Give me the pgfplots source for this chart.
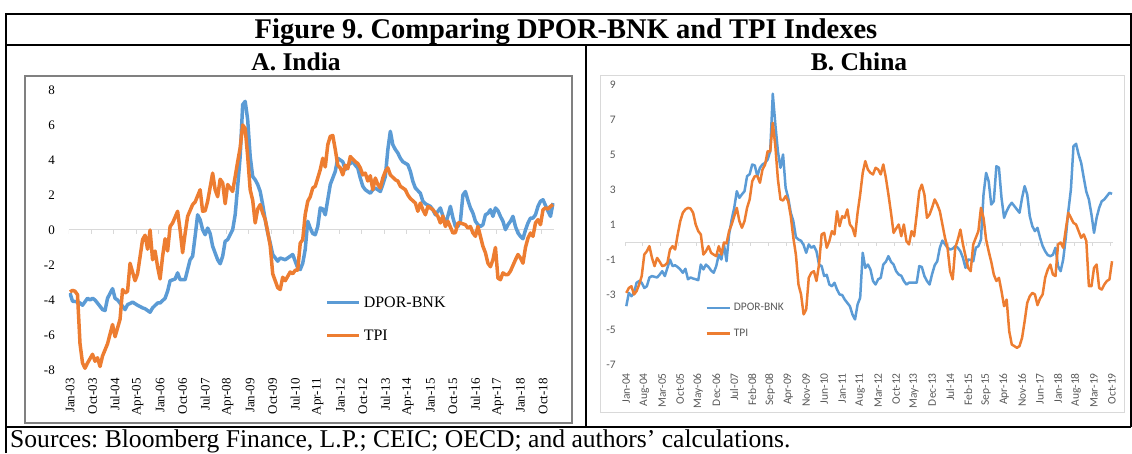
\documentclass[border=0pt]{standalone}
\usepackage{pgfplots}
\pgfplotsset{compat=1.18}
\usepackage{fontspec}
\setmainfont{Liberation Serif}
\newfontfamily\calfont{Carlito}
\definecolor{cblue}{RGB}{91,155,213}
\definecolor{corange}{RGB}{237,125,49}
\definecolor{axgray}{RGB}{217,217,217}
\definecolor{txtgray}{RGB}{89,89,89}
\definecolor{framegray}{RGB}{128,128,128}
\frenchspacing

\pgfplotstableread{
m v
0 -3.6
1 -4.07
3 -4.1
4 -4.17
5 -4.3
7 -3.9
8 -4.0
9 -3.9
10 -4.0
12 -4.36
13 -4.55
14 -4.6
15 -3.9
17 -3.35
18 -3.9
19 -4.0
21 -4.36
22 -4.55
23 -4.26
24 -4.2
25 -4.12
27 -4.3
29 -4.45
30 -4.5
32 -4.7
33 -4.45
35 -4.17
36 -4.17
38 -3.9
39 -3.5
40 -2.9
42 -2.8
43 -2.45
44 -2.84
46 -2.84
47 -2.26
48 -1.7
49 -1.5
50 -0.36
51 0.87
52 0.59
53 0.02
54 -0.27
55 0.11
56 -0.2
57 -0.93
59 -1.7
60 -1.93
61 -1.5
62 -0.65
63 -0.55
65 0.02
66 0.87
67 2.5
68 4.2
69 7.16
70 7.35
71 6.3
72 4.2
73 3.06
74 2.87
75 2.6
76 2.2
77 1.45
78 0.59
79 -0.17
80 -0.74
81 -1.4
83 -1.78
84 -1.6
86 -1.7
87 -1.6
88 -1.5
89 -1.4
91 -2.17
92 -2.26
93 -1.9
94 -1.1
95 0.5
96 0.1
97 -0.2
98 -0.27
99 0.2
100 1.26
101 1.2
102 0.87
103 1.73
104 2.6
105 2.97
106 3.35
107 4.1
108 4.0
109 3.9
110 3.45
111 3.7
113 3.9
114 3.7
115 3.54
116 2.97
117 2.5
118 2.3
120 2.1
121 2.3
122 2.4
123 2.3
124 2.2
125 2.6
126 3.06
127 4.59
128 5.64
129 4.87
130 4.6
131 4.4
132 4.1
133 3.9
135 3.73
136 3.35
137 2.78
138 2.4
140 2.1
141 1.64
142 1.5
144 1.35
145 1.16
146 0.87
148 1.26
149 0.8
150 0.3
151 0.8
152 1.35
153 0.7
154 0.2
155 0.2
156 0.5
157 2.0
158 2.2
159 1.7
160 1.26
161 0.97
162 0.5
163 0.3
164 0.2
165 0.3
166 0.87
167 0.95
168 1.16
169 0.78
170 1.26
171 1.1
172 0.78
173 0.5
174 0.02
175 0.3
176 0.5
177 0.78
178 0.2
179 -0.17
180 -0.36
181 -0.5
182 0.0
183 0.4
184 0.68
185 0.68
186 0.87
187 1.35
188 1.64
189 1.73
190 1.4
191 1.07
192 0.78
193 1.54
}\indiadpor

\pgfplotstableread{
m v
0 -3.54
1 -3.45
2 -3.5
3 -3.7
4 -6.5
5 -7.6
6 -7.9
7 -7.6
9 -7.1
10 -7.5
11 -7.3
12 -7.8
13 -7.2
15 -6.5
17 -5.4
18 -6.1
20 -5.1
21 -3.4
22 -3.6
23 -3.5
24 -1.9
26 -2.9
27 -2.5
29 -0.55
30 -0.3
31 -1.1
32 0.0
33 -1.7
34 -1.2
35 -2.1
36 -2.8
37 -1.5
38 -0.5
39 -1.2
40 0.2
41 0.4
43 1.07
44 0.0
45 -1.3
46 -0.2
47 0.78
49 1.45
50 1.6
52 2.3
53 1.07
54 1.1
55 1.64
57 3.25
58 2.3
59 1.9
60 2.9
61 2.7
62 1.5
63 2.6
64 2.4
65 2.2
67 3.9
68 4.7
69 6.0
70 5.8
71 4.2
72 2.3
73 1.7
74 0.4
75 1.2
76 1.45
77 0.97
78 0.6
79 -0.1
80 -0.9
81 -2.5
82 -2.9
83 -3.3
84 -3.4
85 -2.7
86 -2.9
88 -2.4
89 -2.5
90 -2.3
91 -2.3
92 -0.75
93 -0.55
94 0.9
95 1.64
96 1.9
97 2.4
98 2.5
99 2.97
100 3.45
101 4.1
102 3.6
103 4.87
104 5.35
105 5.4
106 4.6
107 3.7
108 3.55
109 3.15
110 3.7
111 3.5
112 4.2
114 3.9
115 3.8
116 3.55
117 3.15
118 3.25
119 2.8
120 3.1
121 2.3
122 2.97
123 2.6
124 2.4
125 2.97
126 3.35
127 3.55
128 3.15
130 2.87
131 2.8
132 2.5
134 2.3
135 2.0
136 1.8
138 1.54
139 1.07
140 1.54
141 1.16
142 0.87
143 1.35
145 1.16
146 0.97
147 0.78
148 0.4
149 0.8
150 0.2
151 0.5
153 -0.17
154 -0.15
155 0.4
156 0.4
158 0.3
159 0.11
160 0.2
161 -0.17
162 -0.36
163 0.2
164 -0.36
165 -0.93
166 -1.3
167 -1.9
168 -2.1
169 -1.7
170 -1.0
171 -2.75
172 -2.84
173 -2.45
174 -2.55
175 -2.55
176 -2.35
178 -1.7
179 -1.4
180 -1.6
181 -1.9
182 -1.0
183 -0.46
184 -0.17
185 -0.36
186 0.4
187 0.59
188 0.3
189 1.16
190 1.26
191 1.2
192 1.35
193 1.45
}\indiatpi

\pgfplotstableread{
m v
0 -3.64
1 -2.88
2 -3.07
3 -2.88
4 -2.3
5 -2.2
6 -2.3
7 -2.6
8 -2.5
9 -2.0
10 -1.92
12 -2.0
13 -1.83
14 -1.64
15 -1.92
16 -1.45
17 -0.97
18 -1.35
19 -1.3
20 -1.4
21 -1.54
22 -1.73
23 -1.5
24 -2.1
25 -2.0
26 -2.06
27 -2.1
28 -2.15
29 -1.26
30 -1.54
31 -1.26
32 -1.4
33 -1.6
34 -1.73
35 -1.35
36 -0.69
37 -0.97
38 -0.11
39 -1.07
40 0.46
41 1.31
42 1.98
43 2.93
44 2.55
45 2.75
46 2.93
47 3.79
48 3.9
49 4.46
50 4.4
51 3.79
52 4.27
53 4.46
54 4.55
55 4.74
56 5.22
57 8.5
58 6.74
59 5.2
60 4.27
61 5.03
62 3.12
63 2.55
64 1.7
65 1.22
66 0.3
67 0.17
68 0.1
69 -0.15
70 -0.59
71 -0.11
72 -0.3
73 -0.2
74 -0.5
75 -1.26
76 -1.35
77 -1.92
78 -1.85
79 -2.4
80 -2.5
81 -2.3
82 -2.69
83 -2.97
84 -3.0
85 -3.26
86 -3.45
87 -3.64
88 -4.11
89 -4.4
90 -3.54
91 -3.16
92 -0.59
93 -1.45
94 -1.26
95 -1.54
96 -2.2
97 -2.4
98 -2.1
99 -2.02
100 -1.26
101 -1.1
102 -0.78
103 -1.1
104 -1.26
105 -1.64
106 -1.83
107 -1.9
108 -2.2
109 -2.4
110 -2.3
111 -2.3
112 -2.3
113 -2.3
114 -1.35
115 -1.4
116 -1.92
117 -2.2
118 -2.4
119 -1.8
120 -1.3
121 -1.07
122 -0.3
123 0.11
124 -0.1
125 -0.3
126 -0.4
127 -0.35
128 -0.21
129 -0.3
130 -0.5
131 -0.88
132 -1.45
133 -0.97
134 -1.0
135 -1.07
136 -0.3
137 -0.21
138 0.17
139 2.74
140 3.98
141 3.5
142 2.17
143 2.36
144 4.36
145 4.27
146 2.55
147 1.41
148 1.79
149 2.08
150 2.27
151 2.08
152 1.89
153 1.7
154 2.55
155 3.22
156 2.74
157 1.5
158 0.93
159 0.65
160 0.84
161 0.27
162 -0.2
163 -0.5
164 -0.72
165 -0.78
166 -0.7
167 -0.3
168 -1.35
169 -1.64
170 -0.97
171 0.27
172 1.79
173 3.03
174 5.5
175 5.64
176 5.03
177 4.55
178 3.7
179 2.9
180 2.46
181 1.6
182 0.55
183 1.41
184 1.98
185 2.36
186 2.46
187 2.65
188 2.84
189 2.78
}\chinadpor

\pgfplotstableread{
m v
0 -2.88
1 -2.6
2 -2.5
3 -2.97
4 -2.78
5 -2.4
6 -1.92
7 -0.69
8 -0.5
9 -0.21
10 -0.88
11 -1.35
12 -0.88
13 -1.1
14 -1.35
15 -1.3
16 -1.16
17 -0.4
18 -0.21
19 -0.4
20 0.46
21 1.22
22 1.7
23 1.89
24 1.98
25 1.94
26 1.7
27 1.03
28 0.65
29 0.46
30 -0.69
31 -0.5
32 -0.21
33 -0.59
34 -0.69
35 -0.78
36 -0.21
37 -0.69
38 0.0
39 -0.05
40 0.65
41 1.03
42 1.5
43 1.98
44 1.22
45 0.84
46 1.22
47 1.98
48 2.46
49 3.5
50 3.79
51 3.79
52 3.41
53 4.17
54 4.45
55 5.22
56 5.2
57 6.84
58 5.5
59 3.6
60 2.46
61 2.4
62 2.65
63 2.36
64 1.5
65 0.27
66 -0.7
67 -2.4
68 -2.97
69 -4.11
70 -3.83
71 -2.02
72 -1.73
73 -1.64
74 -2.2
75 -1.26
76 0.46
77 0.55
78 -0.3
79 0.08
80 0.65
81 0.46
82 1.79
83 0.93
84 1.5
85 1.41
86 1.89
87 1.03
88 0.84
89 0.36
90 1.7
91 2.74
92 3.98
93 4.65
94 4.17
95 3.98
96 3.89
97 4.27
98 4.17
99 3.89
100 4.46
101 3.7
102 2.74
103 1.7
104 0.55
105 0.8
106 1.03
107 0.36
108 1.03
109 0.08
110 -0.11
111 0.65
112 0.36
113 1.6
114 2.93
115 3.31
116 2.74
117 1.41
118 1.6
119 2.0
120 2.46
121 2.17
122 1.79
123 1.03
124 0.27
125 -0.3
126 -1.64
127 -2.11
128 -0.3
129 0.17
130 0.74
131 -0.11
132 -0.78
133 -1.45
134 -1.64
135 -0.11
136 0.27
137 0.65
138 1.98
139 1.41
140 0.17
141 -0.5
142 -1.1
143 -1.83
144 -2.2
145 -2.02
146 -2.78
147 -3.64
148 -3.26
149 -5.07
150 -5.83
151 -5.92
152 -6.02
153 -5.92
154 -5.45
155 -4.5
156 -3.45
157 -3.07
158 -2.88
159 -2.97
160 -3.58
161 -3.2
162 -2.97
163 -2.0
164 -1.54
165 -1.26
166 -1.83
167 -1.92
168 -0.11
169 0.0
170 -0.3
171 0.74
172 1.7
173 1.41
174 1.12
175 1.03
176 0.65
177 0.27
178 0.46
179 0.08
180 -2.5
181 -2.5
182 -1.45
183 -1.26
184 -2.6
185 -2.69
186 -2.4
187 -2.2
188 -2.11
189 -1.07
}\chinatpi

\begin{document}
\begin{tikzpicture}[x=1pt,y=1pt]
\useasboundingbox (0,0) rectangle (1132,453);
% outer table frame
\draw[line width=1.6pt] (6,0) -- (6,439) -- (1131,439) -- (1131,26);
\draw[line width=2pt] (6,408) -- (1131,408);
\draw[line width=2.2pt] (6,26) -- (1131,26);
\draw[line width=1.8pt] (586,408) -- (586,26);
% panel frames
\draw[framegray, line width=1.2pt] (25,377) rectangle (572,30);
\draw[axgray, line width=1pt] (600,377) rectangle (1124,41);
% titles
\node[anchor=base, font=\bfseries\fontsize{28.5}{30}\selectfont, inner sep=0pt] at (566,414) {Figure 9. Comparing DPOR-BNK and TPI Indexes};
\node[anchor=base, font=\bfseries\fontsize{25.5}{27}\selectfont, inner sep=0pt] at (296,382) {A. India};
\node[anchor=base, font=\bfseries\fontsize{25.5}{27}\selectfont, inner sep=0pt] at (859,382) {B. China};
\node[anchor=base west, font=\fontsize{25.6}{27}\selectfont, inner sep=0pt] at (10,5.5) {Sources: Bloomberg Finance, L.P.; CEIC; OECD; and authors’ calculations.};

% India
\begin{axis}[
  at={(68.75pt,83pt)}, anchor=south west,
  scale only axis, width=485.5pt, height=280pt,
  xmin=-0.5, xmax=193.5, ymin=-8, ymax=8,
  axis line style={draw=none},
  major tick length=0pt,
  ytick={-8,-6,-4,-2,0,2,4,6,8},
  yticklabels={-8,-6,-4,-2,0,2,4,6,8},
  xtick={0,9,...,189},
  xticklabels={Jan-03,Oct-03,Jul-04,Apr-05,Jan-06,Oct-06,Jul-07,Apr-08,Jan-09,Oct-09,Jul-10,Apr-11,Jan-12,Oct-12,Jul-13,Apr-14,Jan-15,Oct-15,Jul-16,Apr-17,Jan-18,Oct-18},
  tick label style={font=\fontsize{13}{13}\selectfont, inner sep=0pt},
  yticklabel style={anchor=east, xshift=-13.75pt},
  xticklabel style={yshift=-8pt, rotate=90, anchor=east},
  legend style={at={(0.528,0.263)}, anchor=north west, draw=none, fill=none,
    font=\fontsize{16}{16}\selectfont, row sep=21pt, column sep=3pt, inner sep=0pt,
    nodes={inner sep=0pt}},
  legend cell align=left,
  legend image code/.code={\draw[#1] (0pt,0pt) -- (32pt,0pt);},
]
\draw[axgray, line width=1pt] (axis cs:-0.5,0) -- (axis cs:193.5,0);
\pgfplotsinvokeforeach{-0.5,8.5,...,188.5}{\draw[axgray, line width=1pt] (axis cs:#1,0) -- (axis cs:#1,-0.23);}
\addplot[cblue, line width=3.5pt, line join=round] table[x=m,y=v] {\indiadpor};
\addlegendentry{DPOR-BNK}
\addplot[corange, line width=3.5pt, line join=round] table[x=m,y=v] {\indiatpi};
\addlegendentry{TPI}
\end{axis}

% China
\begin{axis}[
  at={(625pt,88pt)}, anchor=south west,
  scale only axis, width=488.3pt, height=280pt,
  xmin=-0.5, xmax=189.5, ymin=-7, ymax=9,
  axis line style={draw=none},
  major tick length=0pt,
  ytick={-7,-5,-3,-1,1,3,5,7,9},
  yticklabels={-7,-5,-3,-1,1,3,5,7,9},
  xtick={0,7,...,189},
  xticklabels={Jan-04,Aug-04,Mar-05,Oct-05,May-06,Dec-06,Jul-07,Feb-08,Sep-08,Apr-09,Nov-09,Jun-10,Jan-11,Aug-11,Mar-12,Oct-12,May-13,Dec-13,Jul-14,Feb-15,Sep-15,Apr-16,Nov-16,Jun-17,Jan-18,Aug-18,Mar-19,Oct-19},
  tick label style={font=\calfont\fontsize{11.5}{11.5}\selectfont, text=txtgray, inner sep=0pt},
  yticklabel style={anchor=east, xshift=-9pt},
  xticklabel style={yshift=-8pt, rotate=90, anchor=east},
  legend style={at={(0.164,0.221)}, anchor=north west, draw=none, fill=none,
    font=\calfont\fontsize{11.5}{11.5}\selectfont, text=txtgray, row sep=17pt, column sep=3pt, inner sep=0pt,
    nodes={inner sep=0pt}},
  legend cell align=left,
  legend image code/.code={\draw[#1] (0pt,0pt) -- (23pt,0pt);},
]
\draw[axgray, line width=1pt] (axis cs:-0.5,0) -- (axis cs:189.5,0);
\pgfplotsinvokeforeach{-0.5,6.5,...,188.5}{\draw[axgray, line width=1pt] (axis cs:#1,0) -- (axis cs:#1,-0.2);}
\addplot[cblue, line width=2.5pt, line join=round] table[x=m,y=v] {\chinadpor};
\addlegendentry{DPOR-BNK}
\addplot[corange, line width=2.5pt, line join=round] table[x=m,y=v] {\chinatpi};
\addlegendentry{TPI}
\end{axis}
\end{tikzpicture}
\end{document}
